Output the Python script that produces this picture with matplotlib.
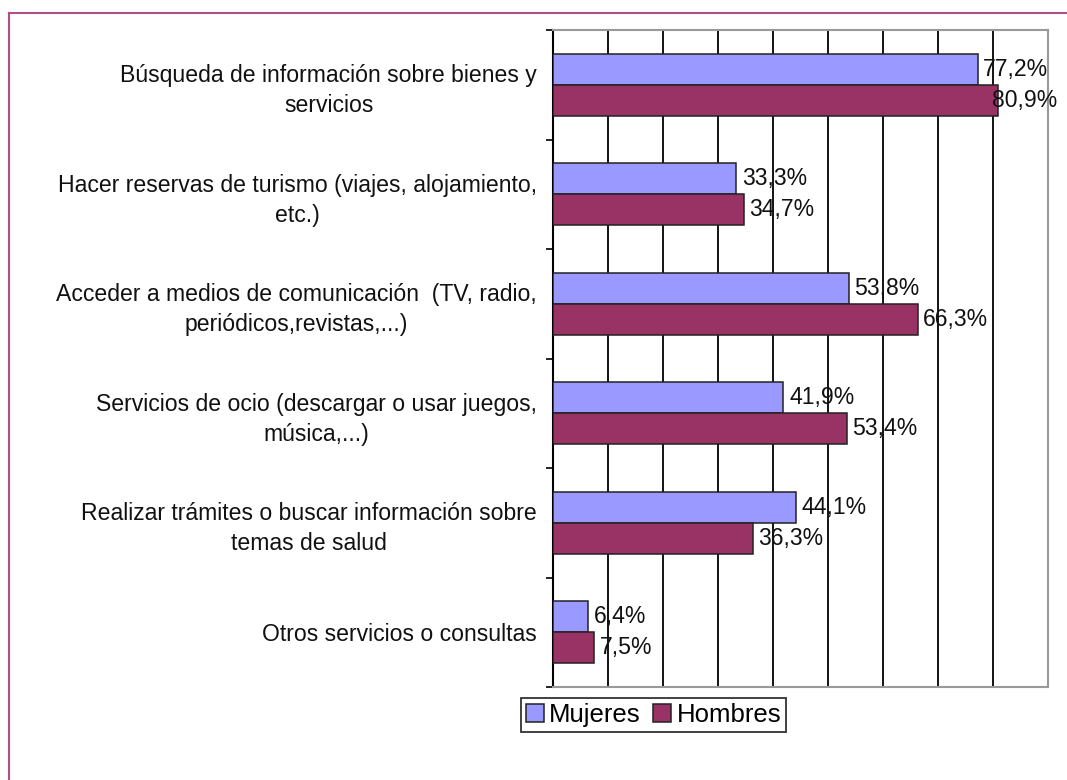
import numpy as np
import matplotlib.pyplot as plt
from matplotlib.lines import Line2D

plt.rcParams['font.family'] = ['Liberation Sans', 'DejaVu Sans']

categorias = [
    'Búsqueda de información sobre bienes y\nservicios',
    'Hacer reservas de turismo (viajes, alojamiento,\netc.)',
    'Acceder a medios de comunicación  (TV, radio,\nperiódicos,revistas,...)',
    'Servicios de ocio (descargar o usar juegos,\nmúsica,...)',
    'Realizar trámites o buscar información sobre\ntemas de salud',
    'Otros servicios o consultas',
]
mujeres = [77.2, 33.3, 53.8, 41.9, 44.1, 6.4]
hombres = [80.9, 34.7, 66.3, 53.4, 36.3, 7.5]

c_muj = '#9999FF'
c_hom = '#993366'
fs = 16.6

fig = plt.figure(figsize=(10.67, 7.8), dpi=100)
ax = fig.add_axes([553/1067, 1 - 687/780, (1048-553)/1067, (687-30)/780])

y = np.arange(len(categorias))
h = 0.285
ax.barh(y - h/2, mujeres, height=h, color=c_muj, edgecolor='#222222', linewidth=1.1, label='Mujeres', zorder=3)
ax.barh(y + h/2, hombres, height=h, color=c_hom, edgecolor='#222222', linewidth=1.1, label='Hombres', zorder=3)

def fmt(v):
    return f'{v:.1f}%'.replace('.', ',')

for yy, v in zip(y - h/2, mujeres):
    ax.annotate(fmt(v), (v, yy), xytext=(4, 0), textcoords='offset points',
                va='center', ha='left', fontsize=fs, color='#111111', zorder=4, annotation_clip=False)
for yy, v in zip(y + h/2, hombres):
    off = 4 if v < 80 else -4
    ax.annotate(fmt(v), (v, yy), xytext=(off, 0), textcoords='offset points',
                va='center', ha='left', fontsize=fs, color='#111111', zorder=4, annotation_clip=False)

ax.set_xlim(0, 90)
ax.set_ylim(len(categorias) - 0.5, -0.5)
ax.set_xticks(np.arange(0, 91, 10))
ax.set_xticklabels([])
ax.tick_params(axis='x', length=0)
ax.grid(axis='x', color='black', linewidth=1.3, zorder=1)

ax.set_yticks(y)
ax.set_yticklabels(categorias, fontsize=fs, multialignment='center', color='#111111', linespacing=1.4)
ax.set_yticks(np.arange(-0.5, len(categorias)), minor=True)
ax.tick_params(axis='y', which='major', length=0, pad=11.5)
ax.tick_params(axis='y', which='minor', length=5, width=1.2, color='black')

for s in ['top', 'right', 'bottom']:
    ax.spines[s].set_color('#999999')
    ax.spines[s].set_linewidth(1.5)
ax.spines['left'].set_color('black')
ax.spines['left'].set_linewidth(1.5)

leg = fig.legend(loc='center', bbox_to_anchor=(0.6125, 1 - 715/780), ncol=2,
                 fontsize=18.5, frameon=True, fancybox=False, edgecolor='black',
                 handlelength=0.7, handleheight=0.7, handletextpad=0.2,
                 columnspacing=0.5, borderpad=0.2, borderaxespad=0)
leg.get_frame().set_linewidth(1.3)

# marco exterior
fig.add_artist(Line2D([9/1067, 9/1067], [-0.1, 1 - 12.5/780], transform=fig.transFigure, color='#b0508a', linewidth=1.5))
fig.add_artist(Line2D([9/1067, 1.1], [1 - 12.5/780, 1 - 12.5/780], transform=fig.transFigure, color='#b0508a', linewidth=1.5))

fig.savefig('out.png', dpi=100)
